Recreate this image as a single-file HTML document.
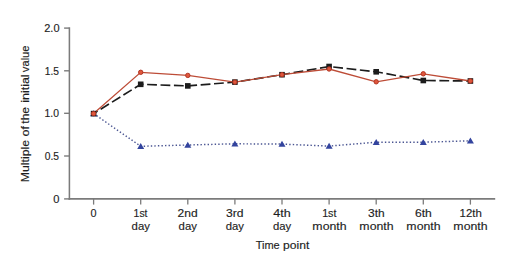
<!DOCTYPE html>
<html><head><meta charset="utf-8"><style>
html,body{margin:0;padding:0;background:#fff;}
svg{display:block;}
.t{font-family:"Liberation Sans",sans-serif;font-size:11px;fill:#1e1e1e;stroke:#1e1e1e;stroke-width:0.15px;}
</style></head><body>
<svg width="520" height="261" viewBox="0 0 520 261">
<rect width="520" height="261" fill="#fff"/>
<line x1="69.4" y1="27.3" x2="69.4" y2="199.70000000000002" stroke="#7b7b7b" stroke-width="1.55"/>
<line x1="68.55000000000001" y1="198.9" x2="495.2" y2="198.9" stroke="#7b7b7b" stroke-width="1.8"/>
<line x1="64.1" y1="198.9" x2="69.4" y2="198.9" stroke="#7b7b7b" stroke-width="1.4"/>
<line x1="64.1" y1="156.0" x2="69.4" y2="156.0" stroke="#7b7b7b" stroke-width="1.4"/>
<line x1="64.1" y1="113.3" x2="69.4" y2="113.3" stroke="#7b7b7b" stroke-width="1.4"/>
<line x1="64.1" y1="70.8" x2="69.4" y2="70.8" stroke="#7b7b7b" stroke-width="1.4"/>
<line x1="64.1" y1="28.1" x2="69.4" y2="28.1" stroke="#7b7b7b" stroke-width="1.4"/>
<line x1="93.6" y1="198.9" x2="93.6" y2="204.6" stroke="#7b7b7b" stroke-width="1.3"/>
<line x1="140.7" y1="198.9" x2="140.7" y2="204.6" stroke="#7b7b7b" stroke-width="1.3"/>
<line x1="187.8" y1="198.9" x2="187.8" y2="204.6" stroke="#7b7b7b" stroke-width="1.3"/>
<line x1="234.9" y1="198.9" x2="234.9" y2="204.6" stroke="#7b7b7b" stroke-width="1.3"/>
<line x1="282.0" y1="198.9" x2="282.0" y2="204.6" stroke="#7b7b7b" stroke-width="1.3"/>
<line x1="329.1" y1="198.9" x2="329.1" y2="204.6" stroke="#7b7b7b" stroke-width="1.3"/>
<line x1="376.2" y1="198.9" x2="376.2" y2="204.6" stroke="#7b7b7b" stroke-width="1.3"/>
<line x1="423.3" y1="198.9" x2="423.3" y2="204.6" stroke="#7b7b7b" stroke-width="1.3"/>
<line x1="470.4" y1="198.9" x2="470.4" y2="204.6" stroke="#7b7b7b" stroke-width="1.3"/>
<text x="44.25" y="32.0" class="t" textLength="15.28" lengthAdjust="spacingAndGlyphs">2.0</text>
<text x="44.82" y="74.6" class="t" textLength="14.21" lengthAdjust="spacingAndGlyphs">1.5</text>
<text x="44.61" y="117.2" class="t" textLength="14.39" lengthAdjust="spacingAndGlyphs">1.0</text>
<text x="44.80" y="159.8" class="t" textLength="14.23" lengthAdjust="spacingAndGlyphs">0.5</text>
<text x="53.17" y="202.6" class="t" textLength="6.17" lengthAdjust="spacingAndGlyphs">0</text>
<text x="90.48" y="216.9" class="t" textLength="6.05" lengthAdjust="spacingAndGlyphs">0</text>
<text x="133.61" y="216.9" class="t" textLength="13.87" lengthAdjust="spacingAndGlyphs">1st</text>
<text x="177.59" y="216.9" class="t" textLength="20.08" lengthAdjust="spacingAndGlyphs">2nd</text>
<text x="226.04" y="216.9" class="t" textLength="17.54" lengthAdjust="spacingAndGlyphs">3rd</text>
<text x="273.21" y="216.9" class="t" textLength="17.40" lengthAdjust="spacingAndGlyphs">4th</text>
<text x="322.18" y="216.9" class="t" textLength="14.29" lengthAdjust="spacingAndGlyphs">1st</text>
<text x="368.14" y="216.9" class="t" textLength="16.63" lengthAdjust="spacingAndGlyphs">3th</text>
<text x="414.99" y="216.9" class="t" textLength="16.80" lengthAdjust="spacingAndGlyphs">6th</text>
<text x="459.63" y="216.9" class="t" textLength="22.21" lengthAdjust="spacingAndGlyphs">12th</text>
<text x="131.62" y="229.6" class="t" textLength="18.30" lengthAdjust="spacingAndGlyphs">day</text>
<text x="178.62" y="229.6" class="t" textLength="18.30" lengthAdjust="spacingAndGlyphs">day</text>
<text x="225.73" y="229.6" class="t" textLength="18.20" lengthAdjust="spacingAndGlyphs">day</text>
<text x="273.03" y="229.6" class="t" textLength="18.20" lengthAdjust="spacingAndGlyphs">day</text>
<text x="312.38" y="229.6" class="t" textLength="34.22" lengthAdjust="spacingAndGlyphs">month</text>
<text x="359.38" y="229.6" class="t" textLength="34.22" lengthAdjust="spacingAndGlyphs">month</text>
<text x="406.38" y="229.6" class="t" textLength="34.22" lengthAdjust="spacingAndGlyphs">month</text>
<text x="453.38" y="229.6" class="t" textLength="34.22" lengthAdjust="spacingAndGlyphs">month</text>
<text x="255.66" y="249.0" class="t" textLength="24.02" lengthAdjust="spacingAndGlyphs">Time</text>
<text x="283.02" y="249.0" class="t" textLength="26.27" lengthAdjust="spacingAndGlyphs">point</text>
<text transform="translate(29.4,181.30) rotate(-90)" x="-1.01" y="0" class="t" textLength="42.35" lengthAdjust="spacingAndGlyphs">Multiple</text>
<text transform="translate(29.4,135.90) rotate(-90)" x="-0.53" y="0" class="t" textLength="10.51" lengthAdjust="spacingAndGlyphs">of</text>
<text transform="translate(29.4,123.50) rotate(-90)" x="-0.18" y="0" class="t" textLength="16.72" lengthAdjust="spacingAndGlyphs">the</text>
<text transform="translate(29.4,102.00) rotate(-90)" x="-0.84" y="0" class="t" textLength="28.47" lengthAdjust="spacingAndGlyphs">initial</text>
<text transform="translate(29.4,72.10) rotate(-90)" x="-0.04" y="0" class="t" textLength="26.63" lengthAdjust="spacingAndGlyphs">value</text>
<polyline points="93.6,113.6 140.7,146.3 187.8,145.0 234.9,143.8 282.0,144.1 329.1,146.1 376.2,142.2 423.3,142.2 470.4,140.8" fill="none" stroke="#4a5592" stroke-width="1.45" stroke-dasharray="1.4,2.15"/>
<polyline points="93.6,113.6 140.7,84.3 187.8,85.9 234.9,82.1 282.0,74.7 329.1,66.5 376.2,71.8 423.3,80.5 470.4,81.0" fill="none" stroke="#1c1c1c" stroke-width="1.65" stroke-dasharray="9.8,3.6" stroke-dashoffset="5.1"/>
<polyline points="93.6,113.6 140.7,72.3 187.8,75.4 234.9,82.1 282.0,74.7 329.1,69.0 376.2,81.8 423.3,73.8 470.4,81.0" fill="none" stroke="#bd4c37" stroke-width="1.3"/>
<path d="M93.60,110.30 L97.10,116.30 L90.10,116.30Z" fill="#33449e"/>
<path d="M140.70,143.00 L144.20,149.00 L137.20,149.00Z" fill="#33449e"/>
<path d="M187.80,141.70 L191.30,147.70 L184.30,147.70Z" fill="#33449e"/>
<path d="M234.90,140.50 L238.40,146.50 L231.40,146.50Z" fill="#33449e"/>
<path d="M282.00,140.80 L285.50,146.80 L278.50,146.80Z" fill="#33449e"/>
<path d="M329.10,142.80 L332.60,148.80 L325.60,148.80Z" fill="#33449e"/>
<path d="M376.20,138.90 L379.70,144.90 L372.70,144.90Z" fill="#33449e"/>
<path d="M423.30,138.90 L426.80,144.90 L419.80,144.90Z" fill="#33449e"/>
<path d="M470.40,137.50 L473.90,143.50 L466.90,143.50Z" fill="#33449e"/>
<rect x="90.80" y="110.80" width="5.6" height="5.6" fill="#1c1c1c"/>
<rect x="137.90" y="81.50" width="5.6" height="5.6" fill="#1c1c1c"/>
<rect x="185.00" y="83.10" width="5.6" height="5.6" fill="#1c1c1c"/>
<rect x="232.10" y="79.30" width="5.6" height="5.6" fill="#1c1c1c"/>
<rect x="279.20" y="71.90" width="5.6" height="5.6" fill="#1c1c1c"/>
<rect x="326.30" y="63.70" width="5.6" height="5.6" fill="#1c1c1c"/>
<rect x="373.40" y="69.00" width="5.6" height="5.6" fill="#1c1c1c"/>
<rect x="420.50" y="77.70" width="5.6" height="5.6" fill="#1c1c1c"/>
<rect x="467.60" y="78.20" width="5.6" height="5.6" fill="#1c1c1c"/>
<circle cx="93.6" cy="113.6" r="2.2" fill="#e0573c" stroke="#b23624" stroke-width="1.0"/>
<circle cx="140.7" cy="72.3" r="2.2" fill="#e0573c" stroke="#b23624" stroke-width="1.0"/>
<circle cx="187.8" cy="75.4" r="2.2" fill="#e0573c" stroke="#b23624" stroke-width="1.0"/>
<circle cx="234.9" cy="82.1" r="2.2" fill="#e0573c" stroke="#b23624" stroke-width="1.0"/>
<circle cx="282.0" cy="74.7" r="2.2" fill="#e0573c" stroke="#b23624" stroke-width="1.0"/>
<circle cx="329.1" cy="69.0" r="2.2" fill="#e0573c" stroke="#b23624" stroke-width="1.0"/>
<circle cx="376.2" cy="81.8" r="2.2" fill="#e0573c" stroke="#b23624" stroke-width="1.0"/>
<circle cx="423.3" cy="73.8" r="2.2" fill="#e0573c" stroke="#b23624" stroke-width="1.0"/>
<circle cx="470.4" cy="81.0" r="2.2" fill="#e0573c" stroke="#b23624" stroke-width="1.0"/>
</svg>
</body></html>
